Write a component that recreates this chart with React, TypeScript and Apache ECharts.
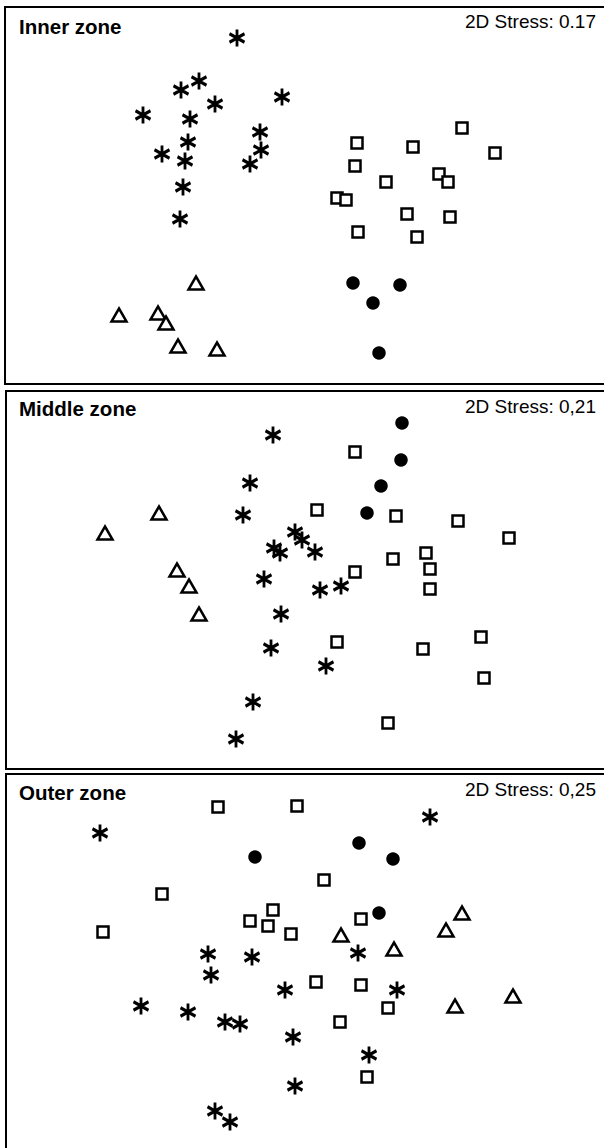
import React, { useEffect, useRef } from "react";
import * as echarts from "echarts";

// NMDS ordination coordinates (arbitrary units)
const innerAsterisk = [
  [-0.63, 1.59], [-1.01, 1.16], [-1.19, 1.07], [-0.85, 0.93], [-0.18, 1.0],
  [-1.57, 0.82], [-1.1, 0.78], [-0.4, 0.65], [-1.12, 0.55], [-0.39, 0.47],
  [-1.38, 0.43], [-1.15, 0.36], [-0.5, 0.33], [-1.17, 0.1], [-1.2, -0.22],
];
const innerSquare = [
  [1.62, 0.69], [0.57, 0.54], [1.13, 0.5], [1.95, 0.44], [0.55, 0.31],
  [0.86, 0.15], [1.39, 0.23], [1.48, 0.15], [0.37, -0.01], [0.46, -0.03],
  [1.07, -0.17], [1.5, -0.2], [0.58, -0.35], [1.17, -0.4],
];
const innerCircle = [[0.53, -0.86], [1.0, -0.88], [0.73, -1.06], [0.79, -1.56]];
const innerTriangle = [
  [-1.04, -0.86], [-1.81, -1.18], [-1.42, -1.16], [-1.34, -1.26], [-1.22, -1.49], [-0.83, -1.52],
];

const middleAsterisk = [
  [-0.27, 1.46], [-0.5, 0.98], [-0.57, 0.66], [-0.05, 0.49], [0.02, 0.41],
  [-0.26, 0.33], [-0.2, 0.28], [0.15, 0.29], [-0.36, 0.02], [0.2, -0.09],
  [0.41, -0.05], [-0.19, -0.33], [-0.29, -0.67], [0.26, -0.85], [-0.47, -1.21], [-0.64, -1.58],
];
const middleSquare = [
  [0.55, 1.29], [0.17, 0.71], [0.96, 0.65], [1.58, 0.6], [2.09, 0.43],
  [0.93, 0.22], [1.26, 0.28], [1.3, 0.12], [0.55, 0.09], [1.3, -0.08],
  [0.37, -0.61], [1.81, -0.56], [1.23, -0.68], [1.84, -0.97], [0.88, -1.42],
];
const middleCircle = [[1.02, 1.58], [1.01, 1.21], [0.81, 0.95], [0.67, 0.68]];
const middleTriangle = [[-1.41, 0.68], [-1.95, 0.48], [-1.23, 0.11], [-1.11, -0.05], [-1.01, -0.33]];

const outerAsterisk = [
  [1.3, 1.47], [-2.0, 1.31], [-0.92, 0.1], [-0.48, 0.07], [0.58, 0.11],
  [-0.89, -0.11], [-0.15, -0.26], [0.97, -0.26], [-1.59, -0.42], [-1.12, -0.48],
  [-0.75, -0.58], [-0.6, -0.6], [-0.07, -0.73], [0.69, -0.91], [-0.05, -1.22],
  [-0.85, -1.47], [-0.7, -1.58],
];
const outerSquare = [
  [-0.82, 1.57], [-0.03, 1.58], [0.24, 0.84], [-1.38, 0.7], [-0.27, 0.54],
  [-0.5, 0.43], [-0.32, 0.38], [-0.09, 0.3], [0.61, 0.45], [-1.97, 0.32],
  [0.16, -0.18], [0.61, -0.21], [0.88, -0.44], [0.4, -0.58], [0.67, -1.13],
];
const outerCircle = [[-0.45, 1.07], [0.59, 1.21], [0.93, 1.05], [0.79, 0.51]];
const outerTriangle = [
  [1.62, 0.51], [1.46, 0.34], [0.41, 0.29], [0.94, 0.15], [2.13, -0.32], [1.55, -0.42],
];

const panelTitles = ["Inner zone", "Middle zone", "Outer zone"];
const stressLabels = ["2D Stress: 0.17", "2D Stress: 0,21", "2D Stress: 0,25"];

const panels = [
  { asterisk: innerAsterisk, square: innerSquare, circle: innerCircle, triangle: innerTriangle },
  { asterisk: middleAsterisk, square: middleSquare, circle: middleCircle, triangle: middleTriangle },
  { asterisk: outerAsterisk, square: outerSquare, circle: outerCircle, triangle: outerTriangle },
];

const ASTERISK = "path://M0,-1L0,1M-0.866,-0.5L0.866,0.5M-0.866,0.5L0.866,-0.5";

export default function App() {
  const ref = useRef<HTMLDivElement>(null);

  useEffect(() => {
    if (!ref.current) return;
    const chart = echarts.init(ref.current, null, { renderer: "svg" });

    const grids = [
      { left: 5, top: 7, width: 620, height: 377 },
      { left: 6, top: 391, width: 620, height: 378 },
      { left: 6, top: 774, width: 620, height: 400 },
    ];
    const xRanges = [[-2.95, 3.25], [-2.94, 3.26], [-2.94, 3.26]];
    const yRanges = [[-1.87, 1.9], [-1.88, 1.9], [-2.1, 1.9]];

    const hiddenAxis = {
      show: false,
      splitLine: { show: false },
    };

    const series: any[] = [];
    panels.forEach((p, i) => {
      series.push({
        type: "scatter",
        xAxisIndex: i,
        yAxisIndex: i,
        data: p.square,
        symbol: "rect",
        symbolSize: 11,
        itemStyle: { color: "#ffffff", borderColor: "#000000", borderWidth: 2.5, opacity: 1 },
        silent: true,
      });
      series.push({
        type: "scatter",
        xAxisIndex: i,
        yAxisIndex: i,
        data: p.triangle,
        symbol: "triangle",
        symbolSize: [15, 13],
        itemStyle: { color: "#ffffff", borderColor: "#000000", borderWidth: 2.5, opacity: 1 },
        silent: true,
      });
      series.push({
        type: "scatter",
        xAxisIndex: i,
        yAxisIndex: i,
        data: p.circle,
        symbol: "circle",
        symbolSize: 13.5,
        itemStyle: { color: "#000000", opacity: 1 },
        silent: true,
      });
      series.push({
        type: "scatter",
        xAxisIndex: i,
        yAxisIndex: i,
        data: p.asterisk,
        symbol: ASTERISK,
        symbolSize: [15, 17],
        itemStyle: { color: "none", borderColor: "#000000", borderWidth: 3, opacity: 1 },
        silent: true,
      });
    });

    const titleY = [28, 410, 794];
    const stressY = [23, 408, 791];
    const graphic: any[] = [];
    panelTitles.forEach((t, i) => {
      graphic.push({
        type: "text",
        left: 19,
        top: titleY[i] - 12,
        style: {
          text: t,
          font: "bold 20.5px 'Liberation Sans', Arial, sans-serif",
          fill: "#000",
        },
      });
      graphic.push({
        type: "text",
        right: 8,
        top: stressY[i] - 11,
        style: {
          text: stressLabels[i],
          font: "19px 'Liberation Sans', Arial, sans-serif",
          fill: "#000",
        },
      });
    });

    chart.setOption({
      animation: false,
      backgroundColor: "#ffffff",
      grid: grids.map((g) => ({
        ...g,
        show: true,
        outerBoundsMode: "none",
        containLabel: false,
        borderColor: "#000000",
        borderWidth: 2,
        backgroundColor: "transparent",
      })),
      xAxis: xRanges.map((r, i) => ({
        type: "value",
        gridIndex: i,
        min: r[0],
        max: r[1],
        ...hiddenAxis,
      })),
      yAxis: yRanges.map((r, i) => ({
        type: "value",
        gridIndex: i,
        min: r[0],
        max: r[1],
        ...hiddenAxis,
      })),
      series,
      graphic,
    });

    return () => chart.dispose();
  }, []);

  return (
    <div
      ref={ref}
      style={{ position: "absolute", left: 0, top: 0, width: 604, height: 1148, background: "#fff" }}
    />
  );
}
